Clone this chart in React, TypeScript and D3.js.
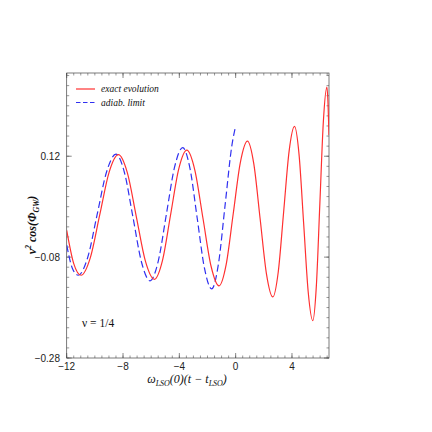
import React from "react";
import * as d3 from "d3";

// exact evolution (red, solid)
const exactX = [-12, -11.5, -10.98, -10.32, -9.655, -8.99, -8.33, -7.69, -7.05, -6.41, -5.77, -5.195, -4.62, -4.045, -3.47, -2.9, -2.325, -1.75, -1.18, -0.675, -0.17, 0.335, 0.84, 1.29, 1.74, 2.19, 2.64, 3.025, 3.41, 3.795, 4.18, 4.505, 4.83, 5.155, 5.48, 5.73, 5.98, 6.23, 6.48, 6.56, 6.63];
const exactY = [-0.027, -0.093, -0.116, -0.081, 0.0035, 0.088, 0.123, 0.087, -0.0005, -0.088, -0.124, -0.0865, 0.004, 0.0945, 0.132, 0.0926, -0.0025, -0.0976, -0.137, -0.095, 0.0065, 0.108, 0.15, 0.1047, -0.0045, -0.1137, -0.159, -0.1095, 0.01, 0.1295, 0.179, 0.1226, -0.0135, -0.1496, -0.206, -0.138, 0.0255, 0.189, 0.257, 0.225, 0.162];

// adiabatic limit (blue, dashed)
const adiabX = [-12, -11.6, -11.18, -10.51, -9.84, -9.17, -8.5, -7.895, -7.29, -6.685, -6.08, -5.5, -4.92, -4.34, -3.76, -3.245, -2.73, -2.215, -1.7, -1.225, -0.75, -0.275, 0.0];
const adiabY = [-0.056, -0.102, -0.116, -0.0808, 0.004, 0.0888, 0.124, 0.0872, -0.0015, -0.0902, -0.127, -0.0883, 0.005, 0.0983, 0.137, 0.096, -0.003, -0.102, -0.143, -0.094, 0.023, 0.14, 0.18];

const xTicks = [-12, -8, -4, 0, 4];
const xTickLabels = ["\u221212", "\u22128", "\u22124", "0", "4"];
const yTicks = [0.12, -0.08, -0.28];
const yTickLabels = ["0.12", "\u22120.08", "\u22120.28"];

const X0 = 66.7, X1 = 329, Y0 = 73, Y1 = 358;

export default function App() {
  const x = d3.scaleLinear().domain([-12, 6.63]).range([X0, X1]);
  const y = d3.scaleLinear().domain([-0.28, 0.285]).range([Y1, Y0]);

  const line = d3
    .line<[number, number]>()
    .x((d) => x(d[0]))
    .y((d) => y(d[1]))
    .curve(d3.curveMonotoneX);

  const exactPts = exactX.map((v, i) => [v, exactY[i]] as [number, number]);
  const adiabPts = adiabX.map((v, i) => [v, adiabY[i]] as [number, number]);

  const minorX = d3.range(-12, 6.6, 0.5);
  const minorY = d3.range(-0.28, 0.285, 0.02);

  const red = "#ff3030";
  const blue = "#3030f0";
  const tickColor = "#555";
  const serif = "'Liberation Serif', 'Times New Roman', serif";
  const sans = "'Liberation Sans', Arial, sans-serif";

  return (
    <svg
      width={432}
      height={432}
      style={{ position: "absolute", left: 0, top: 0, background: "#fff" }}
    >
      <defs>
        <clipPath id="plotclip">
          <rect x={X0} y={Y0} width={X1 - X0} height={Y1 - Y0} />
        </clipPath>
      </defs>
      <rect x={0} y={0} width={432} height={432} fill="#fff" />

      {/* minor ticks */}
      {minorX.map((v, i) => (
        <g key={"mx" + i} stroke={tickColor} strokeWidth={0.6}>
          <line x1={x(v)} x2={x(v)} y1={Y1} y2={Y1 - 2.5} />
          <line x1={x(v)} x2={x(v)} y1={Y0} y2={Y0 + 2.5} />
        </g>
      ))}
      {minorY.map((v, i) => (
        <g key={"my" + i} stroke={tickColor} strokeWidth={0.6}>
          <line x1={X0} x2={X0 + 2.5} y1={y(v)} y2={y(v)} />
          <line x1={X1} x2={X1 - 2.5} y1={y(v)} y2={y(v)} />
        </g>
      ))}
      {/* major ticks */}
      {xTicks.map((v, i) => (
        <g key={"Mx" + i} stroke={tickColor} strokeWidth={0.7}>
          <line x1={x(v)} x2={x(v)} y1={Y1} y2={Y1 - 5} />
          <line x1={x(v)} x2={x(v)} y1={Y0} y2={Y0 + 5} />
        </g>
      ))}
      {yTicks.map((v, i) => (
        <g key={"My" + i} stroke={tickColor} strokeWidth={0.7}>
          <line x1={X0} x2={X0 + 5} y1={y(v)} y2={y(v)} />
          <line x1={X1} x2={X1 - 5} y1={y(v)} y2={y(v)} />
        </g>
      ))}

      {/* frame */}
      <rect
        x={X0}
        y={Y0}
        width={X1 - X0}
        height={Y1 - Y0}
        fill="none"
        stroke="#444"
        strokeWidth={0.7}
      />

      {/* curves */}
      <g clipPath="url(#plotclip)">
        <path d={line(adiabPts) || ""} fill="none" stroke={blue} strokeWidth={1.2} strokeDasharray="7,3.5" />
        <path d={line(exactPts) || ""} fill="none" stroke={red} strokeWidth={1.2} />
      </g>

      {/* tick labels */}
      {xTicks.map((v, i) => (
        <text key={"xl" + i} x={x(v)} y={369.5} textAnchor="middle" fontFamily={sans} fontSize={10} fill="#222">
          {xTickLabels[i]}
        </text>
      ))}
      {yTicks.map((v, i) => (
        <text key={"yl" + i} x={60} y={y(v) + 3.5} textAnchor="end" fontFamily={sans} fontSize={10} fill="#222">
          {yTickLabels[i]}
        </text>
      ))}

      {/* legend */}
      <line x1={76} x2={95} y1={89} y2={89} stroke={red} strokeWidth={1.2} />
      <text x={101} y={92} fontFamily={serif} fontStyle="italic" fontSize={9.5} fill="#111">
        exact evolution
      </text>
      <line x1={76} x2={95} y1={102.5} y2={102.5} stroke={blue} strokeWidth={1.2} strokeDasharray="4.5,2.5" />
      <text x={101} y={105.5} fontFamily={serif} fontStyle="italic" fontSize={9.5} fill="#111">
        adiab. limit
      </text>

      {/* nu label */}
      <text x={82} y={327} fontFamily={serif} fontSize={11.5} fill="#111">
        ν = 1/4
      </text>

      {/* x title */}
      <text x={187} y={383} textAnchor="middle" fontFamily={serif} fontStyle="italic" fontSize={12} fill="#111">
        ω
        <tspan fontSize={8} dy={3}>LSO</tspan>
        <tspan dy={-3}>(0)(t − t</tspan>
        <tspan fontSize={8} dy={3}>LSO</tspan>
        <tspan dy={-3}>)</tspan>
      </text>

      {/* y title */}
      <text
        transform="translate(36,225) rotate(-90)"
        textAnchor="middle"
        fontFamily={serif}
        fontStyle="italic"
        fontWeight="bold"
        fontSize={12}
        fill="#111"
      >
        ν
        <tspan fontSize={8} dy={-5}>2</tspan>
        <tspan dy={5}> cos(Φ</tspan>
        <tspan fontSize={8} dy={3}>GW</tspan>
        <tspan dy={-3}>)</tspan>
      </text>
    </svg>
  );
}
